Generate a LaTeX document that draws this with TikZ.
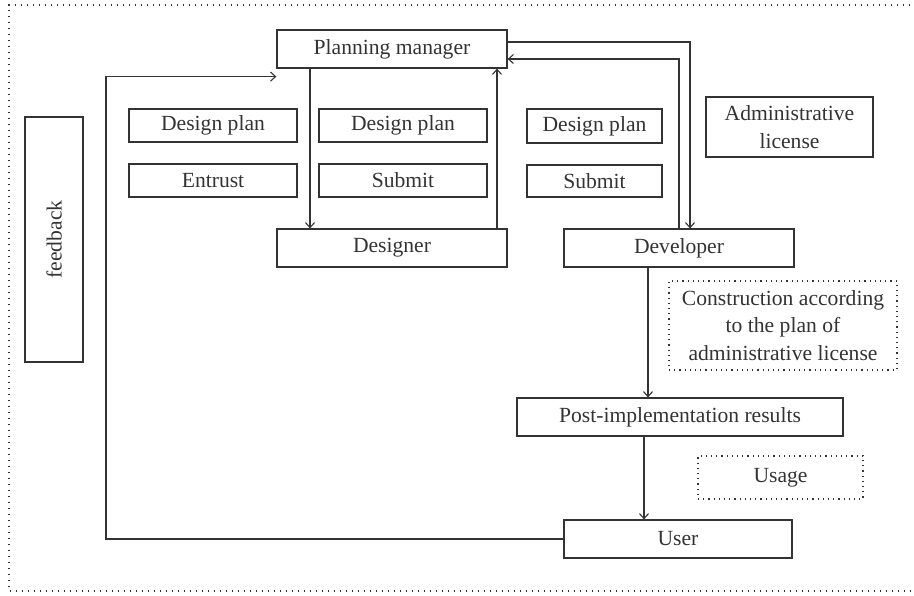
\documentclass[tikz,border=0pt]{standalone}
\usepackage{fontspec}
\setmainfont{Liberation Serif}
\usetikzlibrary{arrows.meta,calc}
\definecolor{ink}{HTML}{333333}
\begin{document}
\begin{tikzpicture}[x=0.5pt,y=-0.5pt,
  every node/.style={text=ink,font=\fontsize{10.8}{13.8}\selectfont},
  box/.style={draw=ink,line width=0.6pt,rectangle,inner sep=0pt,align=center},
  dotbox/.style={draw=ink,line width=0.7pt,rectangle,inner sep=0pt,align=center,dash pattern=on 0.6pt off 2pt},
  conn/.style={draw=ink,line width=0.55pt},
  arr/.style={conn,-{Straight Barb[length=2.5pt,width=4.5pt]}}]
\useasboundingbox (0,0) rectangle (914,595);
% outer dotted frame
\draw[ink,line width=0.7pt,dash pattern=on 0.6pt off 2.4pt] (916,5) -- (9,5) -- (9,591) -- (916,591);

\node[box,minimum width=115pt,minimum height=19pt] (PM) at (392,49) {Planning manager};
\node[box,minimum width=84pt,minimum height=16.5pt] (DP1) at (213,125.5) {Design plan};
\node[box,minimum width=84pt,minimum height=16.5pt] (EN) at (213,180.5) {Entrust};
\node[box,minimum width=84pt,minimum height=16.5pt] (DP2) at (403,125.5) {Design plan};
\node[box,minimum width=84pt,minimum height=16.5pt] (SU2) at (403,180.5) {Submit};
\node[box,minimum width=67.5pt,minimum height=17pt] (DP3) at (594.5,126) {Design plan};
\node[box,minimum width=67.5pt,minimum height=16pt] (SU3) at (594.5,181) {Submit};
\node[box,minimum width=83.5pt,minimum height=30pt] (AL) at (789.5,127) {Administrative\\license};
\node[box,minimum width=115pt,minimum height=19pt] (DE) at (392,248) {Designer};
\node[box,minimum width=115pt,minimum height=19pt] (DV) at (679,248) {Developer};
\node[dotbox,minimum width=114pt,minimum height=44.5pt] (CO) at (783,325.5) {Construction according\\to the plan of\\administrative license};
\node[box,minimum width=163pt,minimum height=19pt] (PO) at (680,417) {Post-implementation results};
\node[dotbox,minimum width=82.5pt,minimum height=21.5pt] (US) at (780.5,477.5) {Usage};
\node[box,minimum width=114pt,minimum height=19pt] (UR) at (678,539) {User};
\node[box,minimum width=29pt,minimum height=122.5pt] (FB) at (54,239.5) {};
\node[rotate=90] (FBT) at (FB.center) {feedback};

% helper coordinates
\coordinate (x310) at (310,0);
\coordinate (x497) at (497,0);
\coordinate (x690) at (690,0);
\coordinate (x648) at (648,0);
\coordinate (x644) at (644,0);
\coordinate (y42) at (0,42);
\coordinate (y59) at (0,59);
\coordinate (fbx) at (106,300);
\coordinate (fbend) at ($(PM.south west)+(0,8)$);

\draw[arr] (PM.south -| x310) -- (DE.north -| x310);
\draw[arr] (DE.north -| x497) -- (PM.south -| x497);
\draw[arr] (PM.east |- y42) -| (DV.north -| x690);
\draw[arr] (DV.north) |- (PM.east |- y59);
\draw[arr] (DV.south -| x648) -- (PO.north -| x648);
\draw[arr] (PO.south -| x644) -- (UR.north -| x644);
\draw[arr] (UR.west) -| (fbx) |- (fbend);
\end{tikzpicture}
\end{document}
